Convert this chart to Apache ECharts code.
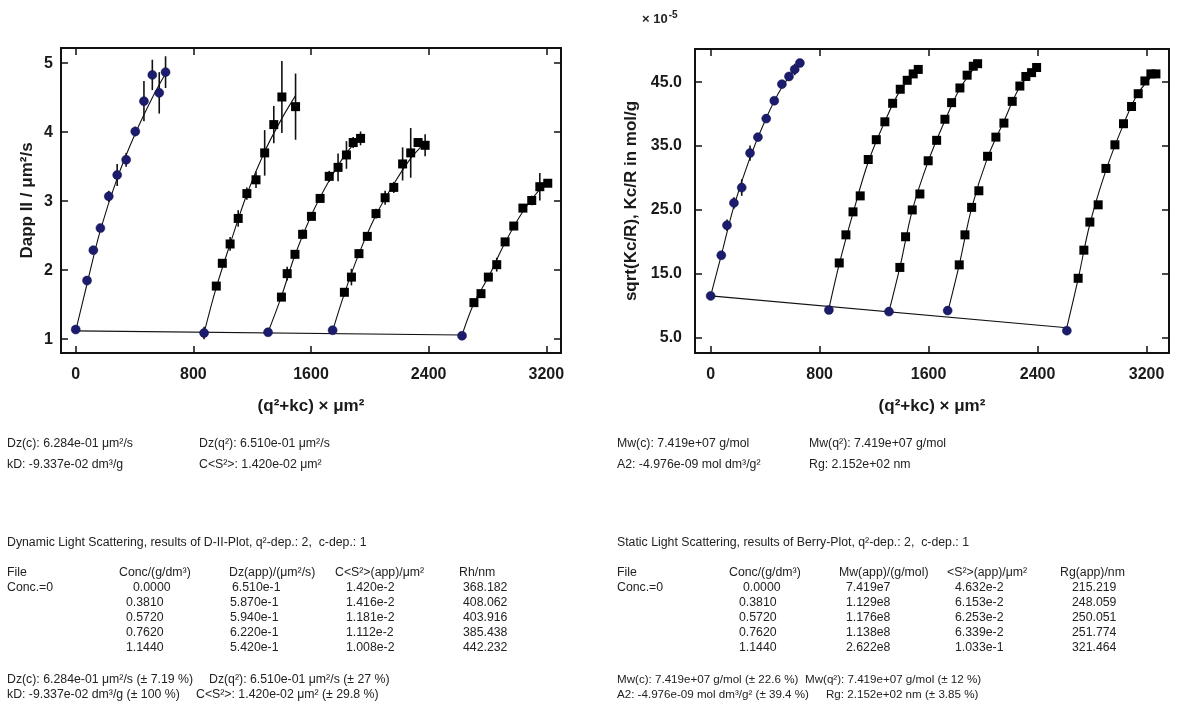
<!DOCTYPE html>
<html><head><meta charset="utf-8">
<script src="https://cdn.jsdelivr.net/npm/echarts@6/dist/echarts.min.js"></script>
<style>html,body{margin:0;padding:0;background:#fff}#c{width:1178px;height:704px}</style>
</head><body><div id="c"></div>
<script>
// ---- Tick labels ----
const xTicks = [0, 800, 1600, 2400, 3200];
const dlsYTicks = [1, 2, 3, 4, 5];
const slsYTicks = [5, 15, 25, 35, 45];

// ---- DLS (D-II plot): [q²+kc, Dapp, error] ----
const dlsC0 = [[0,1.14,0],[77,1.85,0.05],[120,2.29,0.04],[168,2.61,0.05],[225,3.07,0.08],[282,3.38,0.16],[343,3.6,0.1],[405,4.01,0.07],[464,4.45,0.29],[521,4.83,0.22],[568,4.57,0.3],[611,4.87,0.23]];
const dlsC1 = [[873,1.09,0.09],[956,1.77,0.05],[997,2.1,0.06],[1050,2.38,0.1],[1105,2.75,0.12],[1164,3.11,0.09],[1226,3.31,0.12],[1285,3.7,0.33],[1347,4.11,0.27],[1402,4.51,0.52],[1495,4.37,0.48]];
const dlsC2 = [[1308,1.1,0],[1399,1.61,0.04],[1438,1.95,0.1],[1491,2.23,0.06],[1543,2.52,0.07],[1603,2.78,0.05],[1662,3.04,0.04],[1724,3.36,0.08],[1784,3.49,0.2],[1841,3.67,0.2],[1887,3.85,0.08],[1937,3.91,0.1]];
const dlsC3 = [[1747,1.13,0.03],[1827,1.68,0.06],[1875,1.9,0.12],[1926,2.24,0.06],[1983,2.49,0.06],[2042,2.82,0.07],[2104,3.05,0.1],[2163,3.2,0.08],[2223,3.54,0.24],[2278,3.7,0.36],[2328,3.85,0.04],[2376,3.81,0.16]];
const dlsC4 = [[2627,1.05,0],[2708,1.53,0.05],[2756,1.66,0.04],[2806,1.9,0.04],[2863,2.08,0.1],[2920,2.41,0.04],[2979,2.64,0.04],[3041,2.9,0.04],[3101,3.01,0.07],[3156,3.21,0.2],[3210,3.26,0.05]];
// fit curves
const dlsFit0 = [[0,1.12],[77,1.80],[168,2.58],[282,3.33],[405,3.98],[521,4.5],[611,4.85]];
const dlsFit1 = [[873,1.09],[956,1.75],[1050,2.38],[1164,3.1],[1285,3.72],[1402,4.2],[1495,4.53]];
const dlsFit2 = [[1308,1.10],[1399,1.62],[1491,2.22],[1603,2.8],[1724,3.3],[1841,3.7],[1937,3.93]];
const dlsFit3 = [[1747,1.12],[1827,1.66],[1926,2.24],[2042,2.8],[2163,3.25],[2278,3.62],[2376,3.85]];
const dlsFit4 = [[2627,1.06],[2708,1.52],[2806,1.9],[2920,2.4],[3041,2.85],[3156,3.17],[3210,3.27]];
const dlsFitC = [[0,1.12],[2627,1.06]];

// ---- SLS (Berry plot), ×1e-5: [q²+kc, sqrt(Kc/R), error] ----
const slsC0 = [[0,11.54,0],[78,17.9,0.6],[120,22.6,0.9],[171,26.1,0.9],[228,28.5,1.3],[289,33.9,1.2],[347,36.4,0.6],[408,39.3,0.5],[467,42.1,0.5],[523,44.7,0.5],[575,45.9,0.7],[617,47.0,0.9],[655,48.0,0.4]];
const slsC1 = [[868,9.34,0],[944,16.7,0],[993,21.1,0],[1045,24.7,0],[1098,27.2,0],[1157,32.9,0],[1216,36.0,0],[1279,38.8,0],[1336,41.7,0],[1392,43.9,0],[1443,45.3,0],[1487,46.3,0],[1524,47.0,0]];
const slsC2 = [[1309,9.08,0],[1389,16.0,0],[1431,20.8,0],[1480,25.0,0],[1536,27.5,0],[1597,32.7,0],[1659,35.9,0],[1720,39.2,0],[1769,41.8,0],[1830,44.1,0],[1883,46.1,0],[1928,47.5,0],[1960,47.9,0]];
const slsC3 = [[1740,9.24,0],[1825,16.4,0],[1867,21.1,0],[1916,25.4,0],[1969,28.0,0],[2033,33.4,0],[2094,36.4,0],[2153,38.6,0],[2214,42.0,0],[2270,44.4,0],[2314,45.9,0.5],[2356,46.5,0.5],[2393,47.3,0]];
const slsC4 = [[2615,6.1,0],[2698,14.3,0],[2740,18.7,0],[2784,23.1,0],[2845,25.8,0],[2902,31.5,0],[2968,35.2,0],[3031,38.5,0],[3090,41.2,0],[3139,43.2,0],[3188,45.2,0],[3232,46.3,0],[3269,46.3,0]];
const slsFit0 = [[0,11.54],[78,17.9],[171,25.6],[289,33.2],[408,39.4],[523,44.2],[655,48.0]];
const slsFit1 = [[868,9.5],[944,16.5],[1045,24.5],[1157,32.5],[1282,39.0],[1389,43.6],[1524,47.0]];
const slsFit2 = [[1309,9.08],[1389,16.0],[1480,24.9],[1597,32.6],[1720,39.0],[1830,44.0],[1960,47.9]];
const slsFit3 = [[1740,9.0],[1825,16.4],[1916,25.3],[2033,33.2],[2153,38.9],[2270,44.3],[2393,47.3]];
const slsFit4 = [[2615,6.6],[2698,14.2],[2784,22.8],[2902,31.2],[3031,38.4],[3139,43.3],[3269,46.6]];
const slsFitC = [[0,11.55],[2615,6.55]];

// ---- Text results ----
const dlsSummary = [['Dz(c): 6.284e-01 μm²/s','Dz(q²): 6.510e-01 μm²/s'],['kD: -9.337e-02 dm³/g','C<S²>: 1.420e-02 μm²']];
const dlsTitle = 'Dynamic Light Scattering, results of D-II-Plot, q²-dep.: 2,  c-dep.: 1';
const dlsHeader = ['File','Conc/(g/dm³)','Dz(app)/(μm²/s)','C<S²>(app)/μm²','Rh/nm'];
const dlsConc = ['0.0000','0.3810','0.5720','0.7620','1.1440'];
const dlsDz = ['6.510e-1','5.870e-1','5.940e-1','6.220e-1','5.420e-1'];
const dlsCS2 = ['1.420e-2','1.416e-2','1.181e-2','1.112e-2','1.008e-2'];
const dlsRh = ['368.182','408.062','403.916','385.438','442.232'];
const dlsFooter = ['Dz(c): 6.284e-01 μm²/s (± 7.19 %)','Dz(q²): 6.510e-01 μm²/s (± 27 %)','kD: -9.337e-02 dm³/g (± 100 %)','C<S²>: 1.420e-02 μm² (± 29.8 %)'];

const slsSummary = [['Mw(c): 7.419e+07 g/mol','Mw(q²): 7.419e+07 g/mol'],['A2: -4.976e-09 mol dm³/g²','Rg: 2.152e+02 nm']];
const slsTitle = 'Static Light Scattering, results of Berry-Plot, q²-dep.: 2,  c-dep.: 1';
const slsHeader = ['File','Conc/(g/dm³)','Mw(app)/(g/mol)','<S²>(app)/μm²','Rg(app)/nm'];
const slsConc = ['0.0000','0.3810','0.5720','0.7620','1.1440'];
const slsMw = ['7.419e7','1.129e8','1.176e8','1.138e8','2.622e8'];
const slsS2 = ['4.632e-2','6.153e-2','6.253e-2','6.339e-2','1.033e-1'];
const slsRg = ['215.219','248.059','250.051','251.774','321.464'];
const slsFooter = ['Mw(c): 7.419e+07 g/mol (± 22.6 %)','Mw(q²): 7.419e+07 g/mol (± 12 %)','A2: -4.976e-09 mol dm³/g² (± 39.4 %)','Rg: 2.152e+02 nm (± 3.85 %)'];

// ---------------------------------------------------------------
const FONT = '"Liberation Sans", Arial, sans-serif';
const NAVY = '#1c1c6e';
const INK = '#1a1a1a';
const chart = echarts.init(document.getElementById('c'));

function xAx(grid, min, max, pos, name) {
  const main = pos === 'bottom';
  return {
    type: 'value', gridIndex: grid, position: pos, min: min, max: max,
    name: main ? name : '', nameLocation: 'middle', nameGap: 45,
    nameTextStyle: {fontFamily: FONT, fontWeight: 'bold', fontSize: 17, color: INK},
    axisLine: {show: true, onZero: false, lineStyle: {color: '#111', width: 2}},
    axisTick: {show: true, inside: true, length: 7, lineStyle: {color: '#111', width: 1.5}, customValues: xTicks},
    axisLabel: {show: main, margin: 14, fontFamily: FONT, fontWeight: 'bold', fontSize: 16, color: INK, customValues: xTicks, formatter: v => String(v)},
    splitLine: {show: false}
  };
}
function yAx(grid, min, max, pos, ticks, name, gap, fmt, lm) {
  const main = pos === 'left';
  return {
    type: 'value', gridIndex: grid, position: pos, min: min, max: max,
    name: main ? name : '', nameLocation: 'middle', nameGap: gap, nameRotate: 90,
    nameTextStyle: {fontFamily: FONT, fontWeight: 'bold', fontSize: 17, color: INK},
    axisLine: {show: true, onZero: false, lineStyle: {color: '#111', width: 2}},
    axisTick: {show: true, inside: true, length: 7, lineStyle: {color: '#111', width: 1.5}, customValues: ticks},
    axisLabel: {show: main, margin: lm, fontFamily: FONT, fontWeight: 'bold', fontSize: 16, color: INK, customValues: ticks, formatter: fmt},
    splitLine: {show: false}
  };
}

function errSeries(data, xi, yi) {
  return {
    type: 'custom', xAxisIndex: xi, yAxisIndex: yi, data: data, z: 2, silent: true,
    encode: {x: 0, y: 1},
    renderItem: function (params, api) {
      const e = api.value(2);
      if (!e) return null;
      const a = api.coord([api.value(0), api.value(1) - e]);
      const b = api.coord([api.value(0), api.value(1) + e]);
      return {type: 'line', shape: {x1: a[0], y1: a[1], x2: b[0], y2: b[1]}, style: {stroke: '#111', lineWidth: 1.6}};
    }
  };
}
function lineSeries(data, xi, yi) {
  return {type: 'line', xAxisIndex: xi, yAxisIndex: yi, data: data, smooth: 0.35, showSymbol: false, symbol: 'none', silent: true, z: 3,
    lineStyle: {color: '#111', width: 1.1}};
}
function circles(data, xi, yi) {
  return {type: 'scatter', xAxisIndex: xi, yAxisIndex: yi, data: data.map(d => [d[0], d[1]]), symbol: 'circle', symbolSize: 9, z: 5, silent: true,
    itemStyle: {color: NAVY, borderColor: '#10104a', borderWidth: 0.5, opacity: 1}};
}
function squares(data, xi, yi) {
  return {type: 'scatter', xAxisIndex: xi, yAxisIndex: yi, data: data.map(d => [d[0], d[1]]), symbol: 'rect', symbolSize: 9, z: 5, silent: true,
    itemStyle: {color: '#000', opacity: 1}};
}

const dlsSets = [dlsC0, dlsC1, dlsC2, dlsC3, dlsC4];
const dlsFits = [dlsFit0, dlsFit1, dlsFit2, dlsFit3, dlsFit4, dlsFitC];
const slsSets = [slsC0, slsC1, slsC2, slsC3, slsC4];
const slsFits = [slsFit0, slsFit1, slsFit2, slsFit3, slsFit4, slsFitC];

const series = [];
function addChart(sets, fits, xi, yi) {
  sets.forEach(s => series.push(errSeries(s, xi, yi)));
  fits.forEach(f => series.push(lineSeries(f, xi, yi)));
  series.push(circles(sets[0].concat(sets.slice(1).map(s => s[0])), xi, yi));
  series.push(squares([].concat(...sets.slice(1).map(s => s.slice(1))), xi, yi));
}
addChart(dlsSets, dlsFits, 0, 0);
addChart(slsSets, slsFits, 2, 2);

// ---- text graphics ----
const graphics = [];
function txt(t, x, y, size) {
  graphics.push({type: 'text', x: x, y: y, silent: true,
    style: {text: t, font: (size || 12.3) + 'px ' + FONT, fill: '#222', verticalAlign: 'middle'}});
}
const rowY = [588, 603, 618, 633, 648];
// DLS block
txt(dlsSummary[0][0], 7, 444); txt(dlsSummary[0][1], 199, 444);
txt(dlsSummary[1][0], 7, 465); txt(dlsSummary[1][1], 199, 465);
txt(dlsTitle, 7, 543);
const dlsHX = [7, 119, 229, 335, 459];
dlsHeader.forEach((h, i) => txt(h, dlsHX[i], 573));
txt('Conc.=0', 7, rowY[0]);
dlsConc.forEach((v, i) => txt(v, i === 0 ? 133 : 126, rowY[i]));
dlsDz.forEach((v, i) => txt(v, i === 0 ? 232 : 230, rowY[i]));
dlsCS2.forEach((v, i) => txt(v, 346, rowY[i]));
dlsRh.forEach((v, i) => txt(v, 463, rowY[i]));
txt(dlsFooter[0], 7, 680); txt(dlsFooter[1], 209, 680);
txt(dlsFooter[2], 7, 695); txt(dlsFooter[3], 196, 695);
// SLS block
txt(slsSummary[0][0], 617, 444); txt(slsSummary[0][1], 809, 444);
txt(slsSummary[1][0], 617, 465); txt(slsSummary[1][1], 809, 465);
txt(slsTitle, 617, 543);
const slsHX = [617, 729, 839, 947, 1060];
slsHeader.forEach((h, i) => txt(h, slsHX[i], 573));
txt('Conc.=0', 617, rowY[0]);
slsConc.forEach((v, i) => txt(v, i === 0 ? 743 : 739, rowY[i]));
slsMw.forEach((v, i) => txt(v, 846, rowY[i]));
slsS2.forEach((v, i) => txt(v, 955, rowY[i]));
slsRg.forEach((v, i) => txt(v, 1072, rowY[i]));
txt(slsFooter[0], 617, 680, 11.6); txt(slsFooter[1], 805, 680, 11.6);
txt(slsFooter[2], 617, 695, 11.6); txt(slsFooter[3], 826, 695, 11.6);
// × 10^-5
graphics.push({type: 'text', x: 642, y: 19, silent: true, style: {
  text: '{a|× 10}{b|-5}', verticalAlign: 'middle',
  rich: {a: {font: 'bold 13px ' + FONT, fill: '#222'}, b: {font: 'bold 10px ' + FONT, fill: '#222', verticalAlign: 'top', padding: [0, 0, 8, 1]}}
}});

chart.setOption({
  animation: false,
  backgroundColor: '#fff',
  grid: [
    {left: 61, top: 48, width: 500, height: 305, containLabel: false},
    {left: 61, top: 48, width: 500, height: 305, containLabel: false},
    {left: 695, top: 49, width: 474, height: 304, containLabel: false},
    {left: 695, top: 49, width: 474, height: 304, containLabel: false}
  ],
  xAxis: [
    xAx(0, -100, 3300, 'bottom', '(q²+kc) × μm²'),
    xAx(1, -100, 3300, 'top', ''),
    xAx(2, -115, 3365, 'bottom', '(q²+kc) × μm²'),
    xAx(3, -115, 3365, 'top', '')
  ],
  yAxis: [
    yAx(0, 0.8, 5.22, 'left', dlsYTicks, 'Dapp II / μm²/s', 25, v => String(v), 8),
    yAx(1, 0.8, 5.22, 'right', dlsYTicks, '', 0, v => String(v), 8),
    yAx(2, 2.6, 50.2, 'left', slsYTicks, 'sqrt(Kc/R), Kc/R in mol/g', 55, v => Number(v).toFixed(1), 13),
    yAx(3, 2.6, 50.2, 'right', slsYTicks, '', 0, v => Number(v).toFixed(1), 13)
  ],
  series: series,
  graphic: graphics
});
</script></body></html>
